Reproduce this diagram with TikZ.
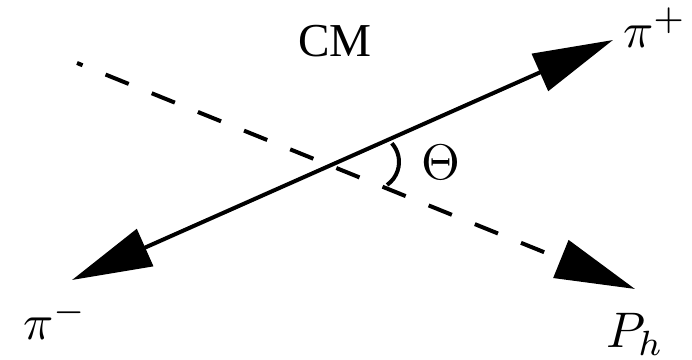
\documentclass[tikz,border=0pt]{standalone}
\usepackage{fontspec}
\newfontfamily\cmfont{Liberation Serif}
\usetikzlibrary{arrows.meta}

\begin{document}
\begin{tikzpicture}[
  x=0.25pt, y=-0.25pt,
  >={Triangle[length=20pt,width=10pt]},
  ray/.style={line width=1pt},
  dashray/.style={line width=1pt, dash pattern=on 6.25pt off 6.2pt, dash phase=4.75pt},
  lbl/.style={inner sep=0pt, scale=1.25},
]
\useasboundingbox (0,0) rectangle (692,360);

% end points of the two rays
\coordinate (pim) at (72,280);
\coordinate (pip) at (613,40);
\coordinate (hs)  at (77,63);
\coordinate (ph)  at (635,289);

% pi+ pi- axis and hadron direction
\draw[ray,<->] (pim) -- (pip);
\draw[dashray,->] (hs) -- (ph);

% angle between them
\coordinate (ac) at (371,162);
\draw[ray] ([shift={(42:7pt)}]ac) arc[start angle=42, end angle=-55, radius=7pt];

% labels
\node[inner sep=0pt, anchor=base, font=\cmfont\fontsize{11.8}{14}\selectfont] (cm) at (335,57) {CM};
\node[lbl, anchor=base west] (lpip)  at (622,48)  {$\pi^+$};
\node[lbl, anchor=base west] (lpim)  at (22,340)  {$\pi^-$};
\node[lbl, anchor=base west] (lph)   at (605,348) {$P_h$};
\node[lbl, anchor=base west] (ltheta) at (420,180) {$\Theta$};

\end{tikzpicture}
\end{document}
